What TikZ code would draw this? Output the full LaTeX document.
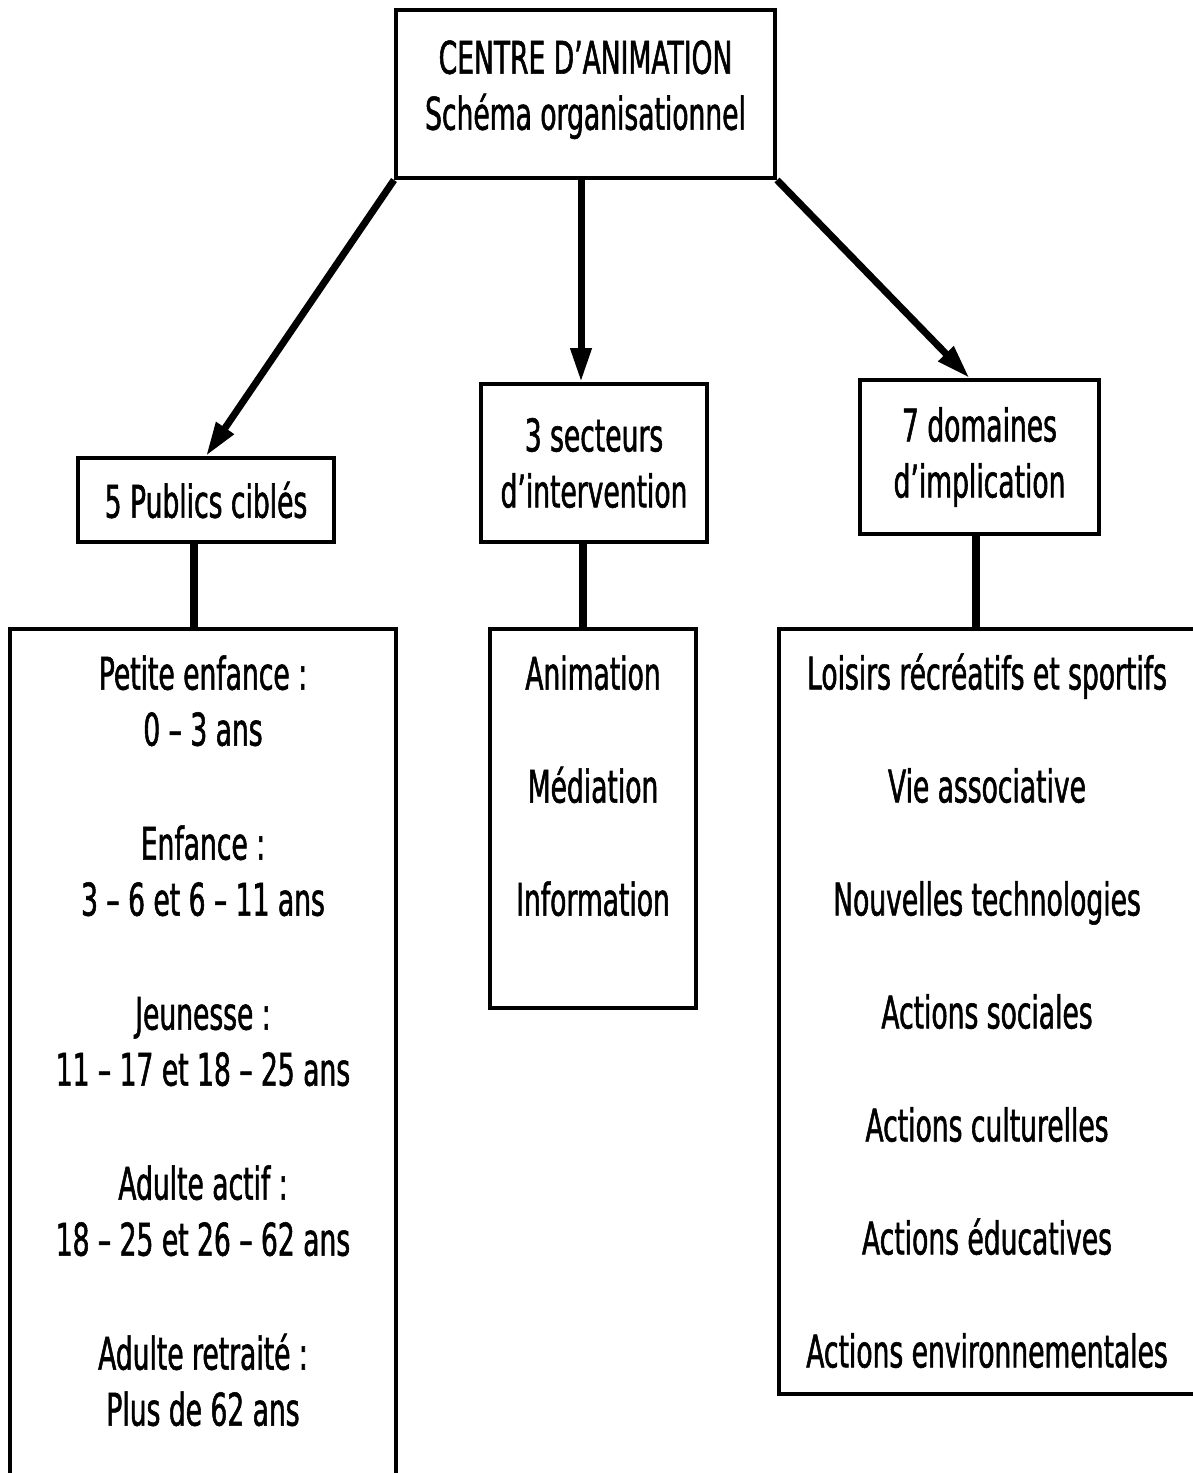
\documentclass[tikz,border=0pt]{standalone}
\usepackage{fontspec}
\setmainfont{DejaVu Sans}[FakeStretch=0.59,FakeBold=1.2]
\usetikzlibrary{arrows.meta}
\begin{document}
\begin{tikzpicture}[x=0.5pt,y=-0.5pt,font=\fontsize{22.5}{28}\selectfont,
    arrow/.style={line width=3.5pt,-{Triangle[length=17pt,width=10pt]}},
    link/.style={line width=4pt}]
      \tikzstyle{box}=[draw,line width=2pt,inner sep=0pt,align=center]
      \tikzstyle{list}=[inner sep=0pt,align=center,anchor=north]
      \useasboundingbox (0,0) rectangle (1193,1473);

      \node(centre)[box,minimum width=189.5pt,minimum height=84pt,text depth=9pt] at (585.5,94) {CENTRE D’ANIMATION\\Schéma organisationnel};
      \node(publics)[box,minimum width=128pt,minimum height=42pt] at (206,500) {5 Publics ciblés};
      \node(secteurs)[box,minimum width=113pt,minimum height=79pt] at (594,463) {3 secteurs\\d’intervention};
      \node(domaines)[box,minimum width=119.5pt,minimum height=77pt] at (979.5,457) {7 domaines\\d’implication};

      \node(cadrepublics)[box,minimum width=193pt,minimum height=445.5pt] at (203,1074.5) {};
      \node(cadresecteurs)[box,minimum width=103pt,minimum height=189.5pt] at (593,818.5) {};
      \node(cadredomaines)[box,minimum width=230.5pt,minimum height=382.5pt] at (1009.5,1011.5) {};

      \node(textepublics)[list] at (203,655) {Petite enfance :\\0 – 3 ans\\[29pt]Enfance :\\3 – 6 et 6 – 11 ans\\[29pt]Jeunesse :\\11 – 17 et 18 – 25 ans\\[29pt]Adulte actif :\\18 – 25 et 26 – 62 ans\\[29pt]Adulte retraité :\\Plus de 62 ans};
      \node(textesecteurs)[list] at (593,655) {Animation\\[28.5pt]Médiation\\[28.5pt]Information};
      \node(textedomaines)[list] at (987,653) {Loisirs récréatifs et sportifs\\[28.5pt]Vie associative\\[28.5pt]Nouvelles technologies\\[28.5pt]Actions sociales\\[28.5pt]Actions culturelles\\[28.5pt]Actions éducatives\\[28.5pt]Actions environnementales};

      \draw[arrow] (centre.south west) -- (publics.north);
      \draw[arrow] ([xshift=-2.25pt]centre.south) -- ([xshift=-2.25pt]centre.south |- secteurs.north);
      \draw[arrow] (centre.south east) -- ([xshift=-5pt]domaines.north);

      \draw[link] ([xshift=-6pt]publics.south) -- ([xshift=-6pt]publics.south |- cadrepublics.north);
      \draw[link] ([xshift=-5.5pt]secteurs.south) -- ([xshift=-5.5pt]secteurs.south |- cadresecteurs.north);
      \draw[link] ([xshift=-2pt]domaines.south) -- ([xshift=-2pt]domaines.south |- cadredomaines.north);
\end{tikzpicture}
\end{document}
